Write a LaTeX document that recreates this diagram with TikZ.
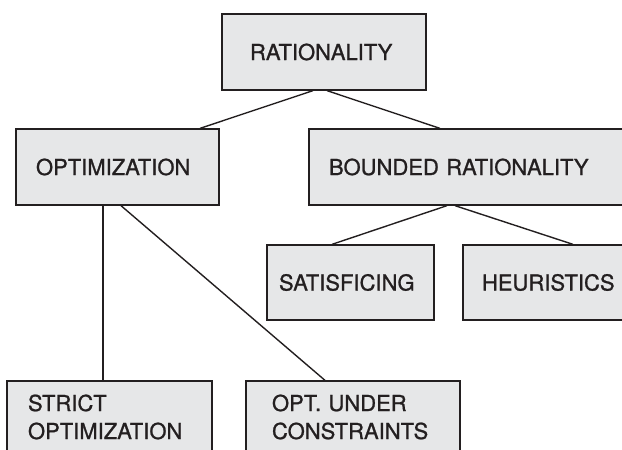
\documentclass[tikz,border=0pt]{standalone}
\usepackage{fontspec}
\setmainfont{TeX Gyre Heros}
\newfontfamily\labelfont{TeX Gyre Heros}[FakeBold=1]
\definecolor{boxfill}{HTML}{E6E7E8}
\definecolor{ink}{HTML}{231F20}
\begin{document}
\begin{tikzpicture}[x=1pt,y=-1pt,
  box/.style={draw=ink, fill=boxfill, line width=1.3pt, rectangle,
    align=left, text=ink, inner ysep=0pt,
    font=\labelfont\fontsize{22}{28}\selectfont},
  link/.style={draw=ink, line width=1.4pt}]
\useasboundingbox (0,0) rectangle (622,450);
\clip (0,0) rectangle (622,450);
% boxes: width = text width + 2 * inner xsep
\node[box, minimum height=76pt, text width=148pt, inner xsep=28pt] (rat) at (324,52) {RATIONALITY};
\node[box, minimum height=76pt, text width=163pt, inner xsep=20pt] (opt) at (117.5,167) {OPTIMIZATION};
\node[box, minimum height=76pt, text width=291pt, inner xsep=20pt] (br) at (474.5,167) {BOUNDED RATIONALITY};
\node[box, minimum height=75pt, text width=143pt, inner xsep=12pt] (sat) at (350.5,282.5) {SATISFICING};
\node[box, minimum height=75pt, text width=139pt, inner xsep=19pt] (heu) at (551.5,282.5) {HEURISTICS};
\node[box, minimum height=72pt, text width=163pt, inner xsep=21pt] (str) at (109.5,417) {STRICT\\OPTIMIZATION};
\node[box, minimum height=72pt, text width=162pt, inner xsep=26pt] (ocs) at (353,417) {OPT. UNDER\\CONSTRAINTS};
% connectors
\draw[link] ([xshift=-11pt]rat.south) -- ([xshift=82.5pt]opt.north);
\draw[link] ([xshift=3pt]rat.south) -- ([xshift=-34.5pt]br.north);
\draw[link] ([xshift=-14.5pt]opt.south) -- ([xshift=-6.5pt]str.north);
\draw[link] ([xshift=3.5pt]opt.south) -- ([xshift=-28pt]ocs.north);
\draw[link] ([xshift=-27.5pt]br.south) -- ([xshift=-18.5pt]sat.north);
\draw[link] ([xshift=-19.5pt]br.south) -- ([xshift=21.5pt]heu.north);
\end{tikzpicture}
\end{document}
